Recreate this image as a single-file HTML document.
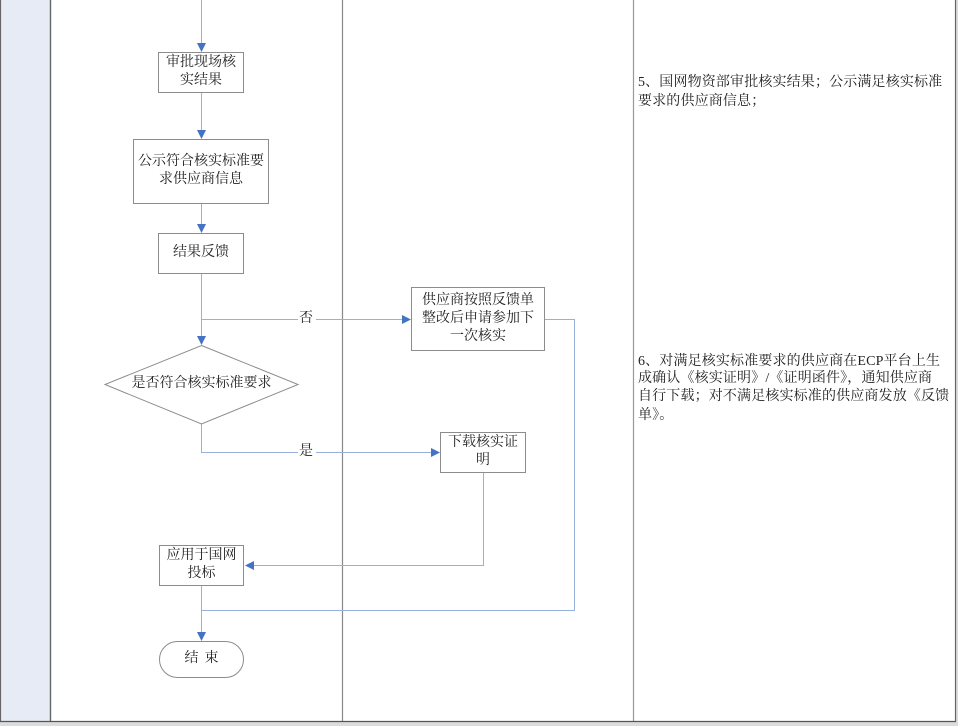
<!DOCTYPE html>
<html><head><meta charset="utf-8"><style>
html,body{margin:0;padding:0;background:#fff;}
body{width:958px;height:726px;overflow:hidden;position:relative;font-family:"Liberation Serif","Noto Serif CJK SC",serif;}
svg{position:absolute;left:0;top:0;}
.t{position:absolute;font-size:14px;color:#222;white-space:nowrap;line-height:18px;font-family:"Liberation Serif","Noto Serif CJK SC",serif;}
.c{text-align:center;}
.r{letter-spacing:0.15px;}
</style></head><body>
<svg width="958" height="726" viewBox="0 0 958 726">
<rect x="0" y="0" width="958" height="726" fill="#fff"/>
<rect x="0" y="0" width="51" height="722" fill="#e6ebf5"/>
<rect x="0" y="722" width="958" height="4" fill="#dcdcdc"/>
<rect x="956" y="0" width="2" height="726" fill="#dcdcdc"/>
<line x1="0.5" y1="0" x2="0.5" y2="722" stroke="#666" stroke-width="1.2"/>
<line x1="50.5" y1="0" x2="50.5" y2="722" stroke="#666" stroke-width="1.4"/>
<line x1="342.5" y1="0" x2="342.5" y2="722" stroke="#8a8a8a" stroke-width="1.2"/>
<line x1="633.5" y1="0" x2="633.5" y2="722" stroke="#999" stroke-width="1.2"/>
<line x1="955.5" y1="0" x2="955.5" y2="722" stroke="#666" stroke-width="1.2"/>
<line x1="0" y1="721.5" x2="956" y2="721.5" stroke="#555" stroke-width="1.2"/>

<g stroke="#98b0dc" stroke-width="1" fill="none">
<line x1="201.5" y1="0" x2="201.5" y2="44"/>
<line x1="201.5" y1="92" x2="201.5" y2="131"/>
<line x1="201.5" y1="203" x2="201.5" y2="225"/>
<line x1="201.5" y1="274" x2="201.5" y2="337"/>
<line x1="201.5" y1="319.5" x2="403" y2="319.5"/>
<polyline points="201.5,424 201.5,452.5 432,452.5"/>
<polyline points="545,319.5 574.5,319.5 574.5,610.5 201.5,610.5"/>
<polyline points="483.5,472 483.5,565.5 253,565.5"/>
<line x1="201.5" y1="586" x2="201.5" y2="633"/>
</g>
<g fill="#4472c4">
<polygon points="197,43 206,43 201.5,52"/>
<polygon points="197,130 206,130 201.5,139"/>
<polygon points="197,224 206,224 201.5,233"/>
<polygon points="197,336 206,336 201.5,345"/>
<polygon points="402,315 402,324 411,319.5"/>
<polygon points="431,448 431,457 440,452.5"/>
<polygon points="254,561 254,570 245,565.5"/>
<polygon points="197,632 206,632 201.5,641"/>
</g>
<g stroke="#8c8c8c" stroke-width="1" fill="#fff">
<rect x="158.5" y="52.5" width="85" height="40"/>
<rect x="133.5" y="139.5" width="135" height="64"/>
<rect x="158.5" y="233.5" width="85" height="40"/>
<rect x="411.5" y="287.5" width="133" height="63"/>
<polygon points="201.5,345.5 298,384.5 201.5,424 105,384.5"/>
<rect x="440.5" y="432.5" width="85" height="40"/>
<rect x="159.5" y="545.5" width="84" height="40"/>
<rect x="159.5" y="641.5" width="84" height="36" rx="18" ry="18"/>
</g>
<rect x="298" y="312" width="18" height="15" fill="#fff"/>
<rect x="298" y="445" width="18" height="15" fill="#fff"/>
</svg>

<div class="t c" style="left:158px;top:54px;width:86px;">审批现场核<br>实结果</div>
<div class="t c" style="left:133px;top:153px;width:136px;">公示符合核实标准要<br>求供应商信息</div>
<div class="t c" style="left:158px;top:244px;width:86px;">结果反馈</div>
<div class="t c" style="left:411px;top:292px;width:134px;">供应商按照反馈单<br>整改后申请参加下<br>一次核实</div>
<div class="t c" style="left:105px;top:375px;width:193px;">是否符合核实标准要求</div>
<div class="t c" style="left:440px;top:434px;width:86px;">下载核实证<br>明</div>
<div class="t c" style="left:159px;top:547px;width:85px;">应用于国网<br>投标</div>
<div class="t c" style="left:159px;top:650px;width:85px;letter-spacing:6px;text-indent:6px;">结束</div>
<div class="t" style="left:299px;top:310px;">否</div>
<div class="t" style="left:299px;top:443px;">是</div>

<div class="t r" style="left:638px;top:74px;">5、国网物资部审批核实结果；公示满足核实标准</div>
<div class="t r" style="left:638px;top:93px;">要求的供应商信息；</div>
<div class="t r" style="left:638px;top:353px;">6、对满足核实标准要求的供应商在ECP平台上生</div>
<div class="t r" style="left:638px;top:370px;">成确认《核实证明》/《证明函件》，通知供应商</div>
<div class="t r" style="left:638px;top:388px;">自行下载；对不满足核实标准的供应商发放《反馈</div>
<div class="t r" style="left:638px;top:407px;">单》。</div>
</body></html>
